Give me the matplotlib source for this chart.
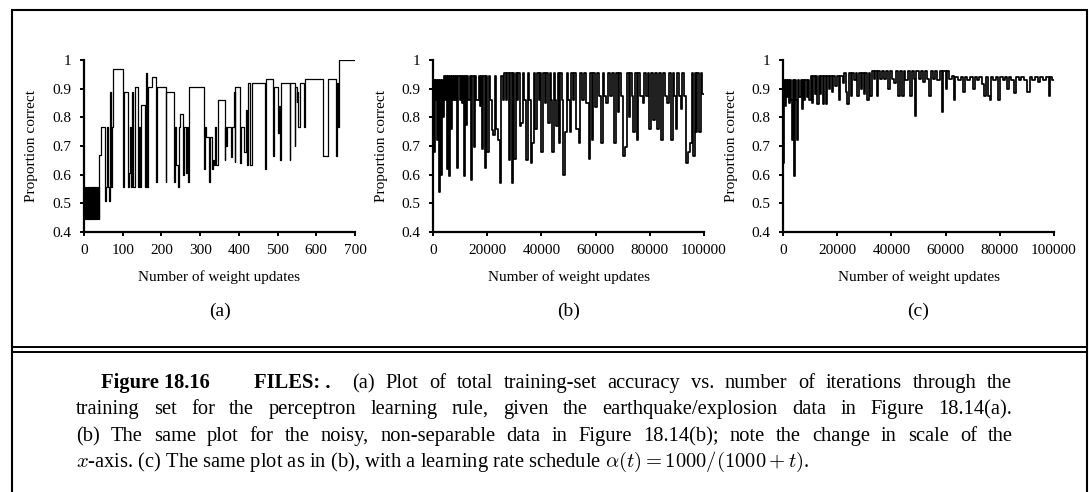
import matplotlib
matplotlib.use('Agg')
import matplotlib.pyplot as plt
from matplotlib.lines import Line2D
import numpy as np

W, H, DPI = 1089, 492, 100
plt.rcParams['font.family'] = ['Liberation Serif', 'DejaVu Serif']
plt.rcParams['mathtext.fontset'] = 'cm'

# ---------------- data ----------------
# (a) perceptron on separable data: step series (x = weight updates)
a_x = [0, 2, 4, 6, 8, 10, 12, 14, 16, 18,
       20, 22, 24, 26, 28, 30, 32, 34, 36, 38,
       40, 43, 54, 56, 59, 62, 65, 67, 70, 72,
       76, 102, 104, 114, 116, 119, 121, 124, 127, 132,
       140, 142, 145, 148, 158, 160, 162, 165, 175, 186,
       188, 211, 213, 233, 235, 237, 243, 245, 248, 256,
       258, 263, 265, 268, 270, 310, 312, 315, 323, 325,
       331, 333, 337, 339, 342, 345, 363, 365, 367, 369,
       380, 382, 387, 389, 391, 404, 406, 414, 418, 420,
       423, 430, 433, 468, 471, 489, 491, 501, 503, 505,
       508, 531, 533, 544, 546, 549, 551, 553, 557, 569,
       571, 618, 631, 652, 654, 656, 659, 700]
a_y = [0.556, 0.445, 0.556, 0.445, 0.556, 0.445, 0.556, 0.445, 0.556, 0.445,
       0.556, 0.445, 0.556, 0.445, 0.556, 0.445, 0.556, 0.445, 0.556, 0.445,
       0.667, 0.765, 0.508, 0.556, 0.765, 0.556, 0.508, 0.889, 0.556, 0.765,
       0.970, 0.556, 0.889, 0.556, 0.605, 0.765, 0.556, 0.889, 0.556, 0.907,
       0.556, 0.765, 0.556, 0.843, 0.556, 0.953, 0.556, 0.907, 0.940, 0.573,
       0.907, 0.573, 0.889, 0.575, 0.765, 0.634, 0.556, 0.765, 0.810, 0.600,
       0.765, 0.605, 0.765, 0.573, 0.907, 0.620, 0.765, 0.733, 0.573, 0.733,
       0.620, 0.650, 0.634, 0.765, 0.634, 0.860, 0.650, 0.765, 0.700, 0.765,
       0.660, 0.765, 0.890, 0.645, 0.907, 0.640, 0.765, 0.680, 0.825, 0.635,
       0.920, 0.635, 0.920, 0.620, 0.935, 0.665, 0.907, 0.745, 0.840, 0.650,
       0.920, 0.650, 0.920, 0.700, 0.907, 0.855, 0.890, 0.765, 0.920, 0.765,
       0.935, 0.665, 0.935, 0.665, 0.920, 0.765, 1.000, 1.000]

# (b) noisy, non-separable data (x in thousands of weight updates)
b_x = [0, 0.3, 0.6, 0.9, 1.2, 1.5, 1.9, 2.3, 2.6, 3.0,
       3.3, 3.7, 4.1, 4.5, 4.8, 5.1, 5.4, 5.8, 6.1, 6.5,
       7.0, 7.4, 7.8, 8.2, 8.6, 9.0, 9.4, 9.8, 10.2, 10.6,
       11.0, 11.4, 11.8, 12.2, 12.6, 13.0, 13.6, 14.0, 14.5, 15.2,
       15.6, 16.0, 16.8, 17.2, 17.6, 18.1, 18.5, 19.2, 19.6, 20.0,
       20.5, 21.0, 21.7, 22.3, 22.8, 23.3, 24.1, 24.7, 25.2, 25.7,
       26.3, 26.8, 27.4, 28.0, 28.5, 29.1, 29.6, 30.0, 30.5, 31.0,
       31.5, 32.0, 32.6, 33.1, 33.7, 34.5, 35.0, 35.5, 36.1, 36.7,
       37.2, 37.8, 38.4, 39.0, 39.5, 40.0, 40.6, 41.2, 41.8, 42.5,
       43.0, 43.5, 44.0, 44.6, 45.0, 45.5, 46.0, 46.4, 47.0, 47.5,
       48.0, 48.8, 49.3, 49.8, 50.4, 51.0, 51.5, 52.0, 52.9, 53.7,
       54.3, 55.0, 55.6, 56.5, 57.5, 58.0, 58.6, 59.2, 59.8, 60.5,
       61.2, 62.0, 62.6, 63.2, 63.9, 64.5, 65.2, 66.0, 66.7, 67.4,
       68.2, 68.8, 69.4, 70.0, 70.9, 71.5, 72.2, 72.8, 73.3, 73.9,
       74.5, 75.2, 75.8, 76.5, 77.4, 78.0, 78.6, 79.2, 79.8, 80.4,
       81.0, 81.8, 82.6, 83.3, 84.1, 84.8, 85.5, 86.2, 87.0, 87.8,
       88.5, 89.0, 89.6, 90.2, 90.8, 91.4, 92.0, 92.7, 93.5, 94.2,
       94.9, 95.4, 96.0, 96.5, 97.0, 97.6, 98.2, 98.8, 99.4, 100.0]
b_y = [0.93, 0.68, 0.93, 0.86, 0.93, 0.72, 0.93, 0.54, 0.93, 0.60,
       0.93, 0.80, 0.945, 0.86, 0.945, 0.62, 0.945, 0.595, 0.945, 0.76,
       0.945, 0.86, 0.945, 0.86, 0.945, 0.625, 0.945, 0.86, 0.945, 0.85,
       0.945, 0.595, 0.945, 0.775, 0.945, 0.86, 0.945, 0.58, 0.945, 0.695,
       0.945, 0.86, 0.945, 0.84, 0.945, 0.69, 0.945, 0.625, 0.945, 0.68,
       0.945, 0.86, 0.755, 0.74, 0.945, 0.76, 0.72, 0.57, 0.945, 0.86,
       0.955, 0.86, 0.955, 0.65, 0.955, 0.57, 0.955, 0.655, 0.955, 0.86,
       0.955, 0.77, 0.78, 0.955, 0.86, 0.65, 0.955, 0.86, 0.64, 0.71,
       0.955, 0.76, 0.955, 0.86, 0.955, 0.68, 0.955, 0.85, 0.955, 0.78,
       0.955, 0.86, 0.68, 0.955, 0.86, 0.77, 0.955, 0.71, 0.955, 0.86,
       0.60, 0.75, 0.955, 0.86, 0.75, 0.955, 0.86, 0.955, 0.76, 0.71,
       0.955, 0.86, 0.955, 0.85, 0.655, 0.955, 0.72, 0.955, 0.835, 0.955,
       0.875, 0.71, 0.955, 0.875, 0.85, 0.955, 0.875, 0.955, 0.71, 0.955,
       0.82, 0.955, 0.875, 0.665, 0.695, 0.955, 0.80, 0.955, 0.875, 0.75,
       0.955, 0.72, 0.955, 0.875, 0.85, 0.955, 0.875, 0.955, 0.76, 0.955,
       0.79, 0.955, 0.76, 0.955, 0.72, 0.955, 0.875, 0.85, 0.955, 0.72,
       0.955, 0.875, 0.76, 0.955, 0.875, 0.83, 0.955, 0.875, 0.64, 0.68,
       0.71, 0.955, 0.665, 0.955, 0.75, 0.955, 0.75, 0.955, 0.88, 0.88]

# (c) same data with learning rate schedule (x in thousands)
c_x = [0, 0.3, 0.6, 1.0, 1.4, 1.8, 2.2, 2.6, 3.0, 3.5,
       3.8, 4.1, 4.4, 4.8, 5.3, 5.6, 6.0, 6.5, 7.0, 7.4,
       7.9, 8.3, 8.8, 9.2, 9.7, 10.2, 10.7, 11.2, 11.7, 12.2,
       12.7, 13.2, 13.7, 14.2, 14.7, 15.2, 15.7, 16.2, 16.8, 17.4,
       18.0, 18.6, 19.2, 19.8, 20.5, 21.2, 22.0, 22.6, 23.3, 23.8,
       24.4, 25.0, 25.6, 26.2, 26.8, 27.4, 28.0, 28.6, 29.2, 29.8,
       30.4, 31.0, 31.6, 32.2, 32.8, 33.4, 34.0, 34.6, 35.2, 35.8,
       36.5, 37.2, 38.0, 38.8, 39.5, 40.2, 41.0, 41.8, 42.5, 43.2,
       43.8, 44.5, 45.2, 46.0, 46.8, 47.5, 48.2, 48.7, 49.2, 50.0,
       50.8, 51.6, 52.4, 53.2, 54.0, 54.6, 55.4, 56.2, 57.0, 57.8,
       58.6, 59.2, 60.0, 60.6, 61.4, 62.2, 63.0, 63.6, 64.5, 65.5,
       66.3, 67.0, 68.0, 69.0, 70.0, 70.7, 71.5, 72.5, 73.5, 74.2,
       74.8, 75.5, 76.2, 76.8, 77.5, 78.5, 79.3, 80.0, 81.0, 82.0,
       82.6, 83.3, 84.2, 85.2, 86.0, 87.0, 88.0, 89.0, 90.0, 91.0,
       92.0, 93.0, 94.0, 95.0, 96.0, 97.0, 98.0, 98.6, 99.3, 100.0]
c_y = [0.64, 0.93, 0.84, 0.93, 0.87, 0.93, 0.85, 0.93, 0.86, 0.72,
       0.93, 0.595, 0.93, 0.86, 0.72, 0.93, 0.87, 0.93, 0.83, 0.93,
       0.86, 0.93, 0.87, 0.93, 0.86, 0.945, 0.85, 0.945, 0.88, 0.945,
       0.845, 0.945, 0.88, 0.945, 0.845, 0.945, 0.845, 0.945, 0.90, 0.945,
       0.89, 0.945, 0.91, 0.945, 0.86, 0.945, 0.92, 0.955, 0.89, 0.845,
       0.955, 0.875, 0.955, 0.93, 0.955, 0.875, 0.955, 0.90, 0.955, 0.88,
       0.955, 0.86, 0.955, 0.875, 0.96, 0.935, 0.96, 0.875, 0.96, 0.935,
       0.96, 0.935, 0.96, 0.90, 0.96, 0.935, 0.92, 0.96, 0.875, 0.96,
       0.875, 0.96, 0.93, 0.96, 0.875, 0.96, 0.935, 0.805, 0.96, 0.935,
       0.96, 0.925, 0.96, 0.935, 0.875, 0.96, 0.935, 0.96, 0.93, 0.96,
       0.82, 0.96, 0.90, 0.96, 0.935, 0.945, 0.86, 0.94, 0.93, 0.94,
       0.89, 0.94, 0.93, 0.94, 0.90, 0.94, 0.93, 0.94, 0.915, 0.875,
       0.94, 0.875, 0.86, 0.94, 0.93, 0.94, 0.86, 0.94, 0.93, 0.94,
       0.90, 0.94, 0.93, 0.885, 0.94, 0.93, 0.94, 0.93, 0.89, 0.94,
       0.93, 0.94, 0.925, 0.94, 0.93, 0.94, 0.875, 0.94, 0.93, 0.93]

y_ticks = [0.4, 0.5, 0.6, 0.7, 0.8, 0.9, 1.0]
y_tick_labels = ['0.4', '0.5', '0.6', '0.7', '0.8', '0.9', '1']
a_xticks = [0, 100, 200, 300, 400, 500, 600, 700]
bc_xticks = [0, 20000, 40000, 60000, 80000, 100000]
panel_tags = ['(a)', '(b)', '(c)']
x_label = 'Number of weight updates'
y_label = 'Proportion correct'

# ---------------- figure ----------------
fig = plt.figure(figsize=(W / DPI, H / DPI), dpi=DPI)

def fx(px):
    return px / W

def fy(py):
    return 1 - py / H

ax_left = [84, 433, 783]
ax_w = 271
ax_top, ax_bot = 60, 232

series = [
    (np.array(a_x), np.array(a_y), (0, 700), a_xticks, 0.9),
    (np.array(b_x) * 1000, np.array(b_y), (0, 100000), bc_xticks, 1.25),
    (np.array(c_x) * 1000, np.array(c_y), (0, 100000), bc_xticks, 1.25),
]

TICK_FS = 11
for i, (xs, ys, xlim, xt, lw) in enumerate(series):
    L = ax_left[i]
    ax = fig.add_axes([fx(L), fy(ax_bot), ax_w / W, (ax_bot - ax_top) / H])
    ax.plot(xs, ys, drawstyle='steps-post', color='black', lw=lw)
    ax.set_xlim(*xlim)
    ax.set_ylim(0.4, 1.0)
    ax.set_yticks(y_ticks)
    ax.set_yticklabels(y_tick_labels)
    ax.set_xticks(xt)
    ax.set_xticklabels([str(v) for v in xt])
    for s in ('top', 'right'):
        ax.spines[s].set_visible(False)
    for s in ('left', 'bottom'):
        ax.spines[s].set_linewidth(1.6)
    ax.tick_params(direction='out', length=3, width=1.4, labelsize=TICK_FS,
                   pad=6)
    ax.patch.set_alpha(0)
    cx = L + ax_w / 2
    fig.text(fx(cx), fy(277), x_label, ha='center', va='center', fontsize=11)
    fig.text(fx(L - 52), fy((ax_top + ax_bot) / 2), y_label, rotation=90,
             ha='center', va='center', fontsize=11)
    fig.text(fx(cx), fy(311), panel_tags[i], ha='center', va='center',
             fontsize=14)

# frame lines
def hline(y, x0, x1, lw):
    fig.add_artist(Line2D([fx(x0), fx(x1)], [fy(y), fy(y)], color='black',
                          lw=lw, transform=fig.transFigure, solid_capstyle='butt'))

def vline(x, y0, y1, lw):
    fig.add_artist(Line2D([fx(x), fx(x)], [fy(y0), fy(y1)], color='black',
                          lw=lw, transform=fig.transFigure, solid_capstyle='butt'))

hline(10, 11, 1088, 1.5)
vline(12, 9.5, 492, 1.5)
vline(1087, 9.5, 492, 1.5)
hline(347, 12, 1087, 1.4)
hline(352, 12, 1087, 1.4)

# caption
CAP_FS = 14.8
renderer = fig.canvas.get_renderer()

def justify(words, x0, x1, y, **kw):
    texts = [fig.text(0, fy(y), w, ha='left', va='baseline', fontsize=CAP_FS, **kw)
             for w in words]
    widths = [t.get_window_extent(renderer).width for t in texts]
    gap = (x1 - x0 - sum(widths)) / max(len(words) - 1, 1)
    x = x0
    for t, w in zip(texts, widths):
        t.set_x(fx(x))
        x += w + gap

cap1_bold_a = 'Figure 18.16'
cap1_bold_b = 'FILES: .'
cap1 = '(a) Plot of total training-set accuracy vs. number of iterations through the'
cap2 = 'training set for the perceptron learning rule, given the earthquake/explosion data in Figure 18.14(a).'
cap3 = '(b) The same plot for the noisy, non-separable data in Figure 18.14(b); note the change in scale of the'
cap4 = r'$x$-axis. (c) The same plot as in (b), with a learning rate schedule $\alpha(t) = 1000/(1000 + t)$.'

base = [388, 414, 441, 467]
fig.text(fx(101), fy(base[0]), cap1_bold_a, fontweight='bold', fontsize=CAP_FS,
         ha='left', va='baseline')
fig.text(fx(254), fy(base[0]), cap1_bold_b, fontweight='bold', fontsize=CAP_FS,
         ha='left', va='baseline')
justify(cap1.split(), 352, 1012, base[0])
justify(cap2.split(), 76, 1012, base[1])
justify(cap3.split(), 76, 1013, base[2])
fig.text(fx(76), fy(base[3]), cap4, fontsize=CAP_FS, ha='left', va='baseline')

fig.savefig('out.png', dpi=DPI)
